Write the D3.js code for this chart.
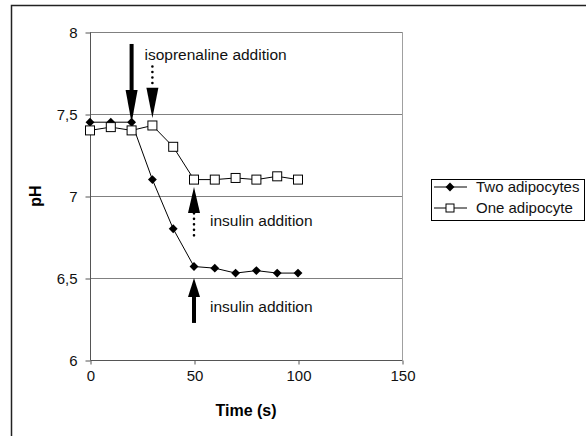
<!DOCTYPE html>
<html><head><meta charset="utf-8">
<script src="https://cdn.jsdelivr.net/npm/d3@7"></script>
<style>
body{margin:0;background:#fff;}
text{font-family:"Liberation Sans",Arial,sans-serif;}
</style></head>
<body><svg id="c" width="586" height="436"></svg>
<script>
const times = [0,10,20,30,40,50,60,70,80,90,100];
const twoAdipocytes = [7.45,7.45,7.45,7.10,6.80,6.57,6.56,6.53,6.545,6.53,6.53];
const oneAdipocyte = [7.40,7.42,7.40,7.43,7.30,7.10,7.10,7.11,7.10,7.12,7.10];
const xTicks = [0,50,100,150];
const yTicks = [6,6.5,7,7.5,8];
const seriesNames = ["Two adipocytes","One adipocyte"];
// annotations: x, shaft start, head base, tip (data units)
const arrows = [
  {x:20, from:7.927, base:7.646, tip:7.445, dotted:false},
  {x:30, from:7.79, base:7.66, tip:7.476, dotted:true},
  {x:50, from:6.76, base:6.896, tip:7.055, dotted:true},
  {x:50, from:6.226, base:6.384, tip:6.5, dotted:false}
];
const labels = [
  {x:26.2, y:7.86, text:"isoprenaline addition"},
  {x:57.7, y:6.85, text:"insulin addition"},
  {x:57.7, y:6.325, text:"insulin addition"}
];

const svg = d3.select("#c");
const x = d3.scaleLinear().domain([0,150]).range([90,402]);
const y = d3.scaleLinear().domain([6,8]).range([360,32]);

// outer border
svg.append("path").attr("d","M11.5,437 V5.5 H587").attr("fill","none").attr("stroke","#222").attr("stroke-width",1.5);

// gridlines
svg.append("g").selectAll("line").data(yTicks.filter(d=>d>6)).join("line")
  .attr("x1",90).attr("x2",402).attr("y1",d=>y(d)+0.5).attr("y2",d=>y(d)+0.5)
  .attr("stroke","#808080").attr("stroke-width",1);
// right plot border
svg.append("line").attr("x1",402.5).attr("x2",402.5).attr("y1",32).attr("y2",360).attr("stroke","#a0a0a0");

// axes
const ya = svg.append("g").attr("transform","translate(90.5,0.5)")
  .call(d3.axisLeft(y).tickValues(yTicks).tickSize(5).tickPadding(8).tickFormat(d=>String(d).replace(".",",")));
const xa = svg.append("g").attr("transform","translate(0.5,360.5)")
  .call(d3.axisBottom(x).tickValues(xTicks).tickSize(4).tickPadding(6).tickFormat(d3.format("d")));
[ya,xa].forEach(a=>{
  a.selectAll("path,line").attr("stroke","#555");
  a.selectAll("text").attr("font-size",15).attr("fill","#111");
});
ya.select(".domain").attr("d","M0,"+y(6)+"V"+y(8));
xa.select(".domain").attr("d","M"+x(0)+",0H"+x(150));

// axis titles
svg.append("text").attr("x",246).attr("y",415.5).attr("text-anchor","middle").attr("font-size",16).attr("font-weight","bold").text("Time (s)");
svg.append("text").attr("transform","translate(41,196) rotate(-90)").attr("text-anchor","middle").attr("font-size",16).attr("font-weight","bold").text("pH");

// series
const line = d3.line().x(d=>x(d[0])).y(d=>y(d[1]));
const d2 = times.map((t,i)=>[t,twoAdipocytes[i]]);
const d1 = times.map((t,i)=>[t,oneAdipocyte[i]]);
svg.append("path").datum(d2).attr("d",line).attr("fill","none").attr("stroke","#000").attr("stroke-width",1);
svg.append("path").datum(d1).attr("d",line).attr("fill","none").attr("stroke","#000").attr("stroke-width",1);
const diamond = d3.symbol().type(d3.symbolDiamond2).size(50);
svg.append("g").selectAll("path").data(d2).join("path")
  .attr("transform",d=>`translate(${x(d[0])},${y(d[1])})`).attr("d",diamond).attr("fill","#000");
svg.append("g").selectAll("rect").data(d1).join("rect")
  .attr("x",d=>x(d[0])-4.5).attr("y",d=>y(d[1])-4.5).attr("width",9).attr("height",9)
  .attr("fill","#fff").attr("stroke","#000").attr("stroke-width",1);

// arrows
arrows.forEach(a=>{
  const ax = x(a.x), yf=y(a.from), yb=y(a.base), yt=y(a.tip);
  if(a.dotted){
    svg.append("line").attr("x1",ax).attr("x2",ax).attr("y1",yf).attr("y2",yb)
      .attr("stroke","#000").attr("stroke-width",2.6).attr("stroke-linecap","round").attr("stroke-dasharray","0,5.5");
  } else {
    svg.append("rect").attr("x",ax-2).attr("width",4).attr("y",Math.min(yf,yb)).attr("height",Math.abs(yb-yf)).attr("fill","#000");
  }
  svg.append("path").attr("d",`M${ax-6},${yb} L${ax+6},${yb} L${ax},${yt} Z`).attr("fill","#000");
});
svg.append("g").selectAll("text").data(labels).join("text")
  .attr("x",d=>x(d.x)).attr("y",d=>y(d.y)).attr("dy","0.35em").attr("font-size",15.5).attr("fill","#111").text(d=>d.text);

// legend
const lg = svg.append("g");
lg.append("rect").attr("x",431.5).attr("y",179.5).attr("width",153).attr("height",41).attr("fill","#fff").attr("stroke","#000");
seriesNames.forEach((n,i)=>{
  const ly = 187+i*21;
  lg.append("line").attr("x1",434).attr("x2",467).attr("y1",ly).attr("y2",ly).attr("stroke","#000");
  if(i===0) lg.append("path").attr("transform",`translate(450,${ly})`).attr("d",diamond).attr("fill","#000");
  else lg.append("rect").attr("x",446).attr("y",ly-4).attr("width",8).attr("height",8).attr("fill","#fff").attr("stroke","#000");
  lg.append("text").attr("x",476).attr("y",ly).attr("dy","0.35em").attr("font-size",15).attr("fill","#111").text(n);
});
</script></body></html>
